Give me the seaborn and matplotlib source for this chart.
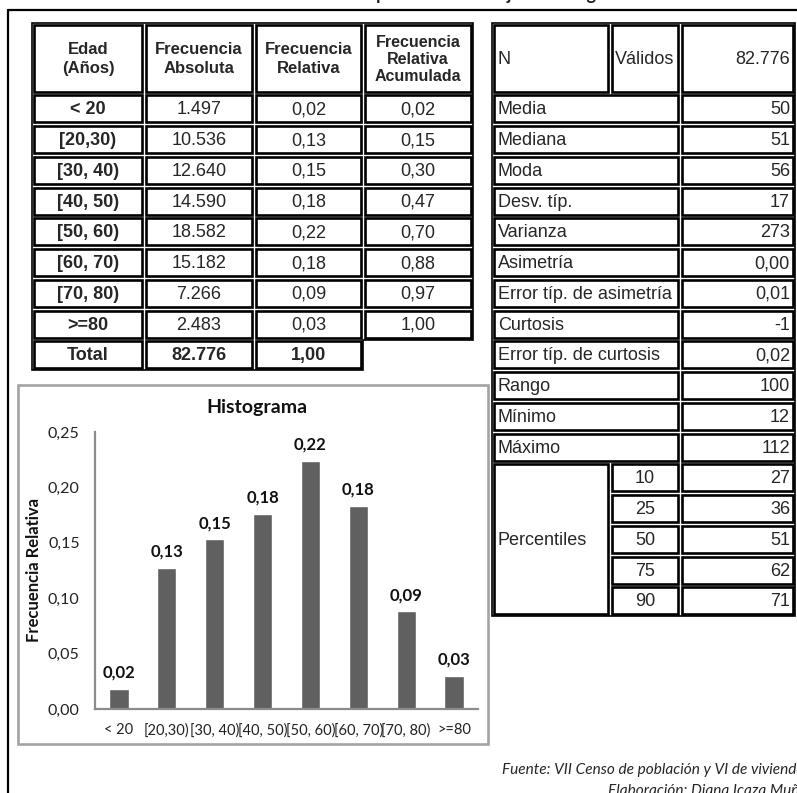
import matplotlib
matplotlib.use("Agg")
import matplotlib.pyplot as plt
import seaborn as sns
from matplotlib.patches import Rectangle, Polygon
from matplotlib.ticker import FuncFormatter

# Datos: edad del jefe de hogar
edades = ["< 20", "[20,30)", "[30, 40)", "[40, 50)", "[50, 60)", "[60, 70)", "[70, 80)", ">=80"]
frec_absoluta = [1497, 10536, 12640, 14590, 18582, 15182, 7266, 2483]
total_absoluta = 82776
frec_relativa = [0.02, 0.13, 0.15, 0.18, 0.22, 0.18, 0.09, 0.03]
total_relativa = 1.00
frec_acumulada = [0.02, 0.15, 0.30, 0.47, 0.70, 0.88, 0.97, 1.00]
alturas_barras = [0.018, 0.127, 0.153, 0.176, 0.224, 0.183, 0.088, 0.030]

encabezados = ["Edad\n(Años)", "Frecuencia\nAbsoluta", "Frecuencia\nRelativa", "Frecuencia\nRelativa\nAcumulada"]

n_validos = 82776
estad_nombres = ["Media", "Mediana", "Moda", "Desv. típ.", "Varianza", "Asimetría",
                 "Error típ. de asimetría", "Curtosis", "Error típ. de curtosis",
                 "Rango", "Mínimo", "Máximo"]
estad_valores = ["50", "51", "56", "17", "273", "0,00", "0,01", "-1", "0,02", "100", "12", "112"]
percentiles = ["10", "25", "50", "75", "90"]
percentil_valores = ["27", "36", "51", "62", "71"]

y_ticks = [0.00, 0.05, 0.10, 0.15, 0.20, 0.25]


def miles(n):
    return f"{n:,}".replace(",", ".")


def dec(v):
    return f"{v:.2f}".replace(".", ",")


sns.set_style("white")
plt.rcParams["font.family"] = ["Liberation Sans", "DejaVu Sans"]

fig = plt.figure(figsize=(7.97, 7.93), dpi=100)

# capa en pixeles para tablas y marcos
ov = fig.add_axes([0, 0, 1, 1])
ov.set_xlim(0, 797)
ov.set_ylim(793, 0)
ov.axis("off")


def celda(x0, y0, x1, y1, texto="", bold=False, ha="center", size=13, ls=1.0):
    ov.add_patch(Rectangle((x0 + 1.8, y0 + 1.8), x1 - x0 - 3.6, y1 - y0 - 3.6,
                           fill=False, ec="black", lw=1.9))
    if ha == "center":
        tx = (x0 + x1) / 2
    elif ha == "left":
        tx = x0 + 6
    else:
        tx = x1 - 5
    ov.text(tx, (y0 + y1) / 2 + 1, texto, ha=ha, va="center", fontsize=size,
            fontweight="bold" if bold else "normal", linespacing=ls)


# titulo cortado por el borde superior y marco exterior
ov.text(420, -0.3, "Estadísticos descriptivos: edad del jefe de hogar", ha="center",
        va="baseline", fontsize=13, fontweight="bold", family="Lato", color="#222222")
ov.plot([8, 797], [10, 10], color="black", lw=1.6)
ov.plot([8, 8], [10, 793], color="black", lw=1.6)

# tabla de frecuencias
cols = [32, 144, 254, 363, 473]
y_top, y_head, alto = 23, 93.5, 30.75
for j, enc in enumerate(encabezados):
    celda(cols[j], y_top, cols[j + 1], y_head, enc, bold=True,
          size=11.5 if j == 3 else 12, ls=1.15 if j == 3 else 1.3)
for i, edad in enumerate(edades):
    y0 = y_head + i * alto
    celda(cols[0], y0, cols[1], y0 + alto, edad, bold=True)
    celda(cols[1], y0, cols[2], y0 + alto, miles(frec_absoluta[i]))
    celda(cols[2], y0, cols[3], y0 + alto, dec(frec_relativa[i]))
    celda(cols[3], y0, cols[4], y0 + alto, dec(frec_acumulada[i]))
y0 = y_head + len(edades) * alto
celda(cols[0], y0, cols[1], y0 + alto, "Total", bold=True)
celda(cols[1], y0, cols[2], y0 + alto, miles(total_absoluta), bold=True)
celda(cols[2], y0, cols[3], y0 + alto, dec(total_relativa), bold=True)
y_fin = y0 + alto
ov.add_patch(Polygon([(cols[0], y_top), (cols[4], y_top), (cols[4], y0), (cols[3], y0),
                      (cols[3], y_fin), (cols[0], y_fin)],
                     closed=True, fill=False, ec="black", lw=1.2))

# tabla de estadisticos
rc = [492, 610, 680, 795]
celda(rc[0], y_top, rc[1], y_head, "N", ha="left")
celda(rc[1], y_top, rc[2], y_head, "Válidos")
celda(rc[2], y_top, rc[3], y_head, miles(n_validos), ha="right")
for i, (nom, val) in enumerate(zip(estad_nombres, estad_valores)):
    y0 = y_head + i * alto
    celda(rc[0], y0, rc[2], y0 + alto, nom, ha="left")
    celda(rc[2], y0, rc[3], y0 + alto, val, ha="right")
y_p = y_head + len(estad_nombres) * alto
celda(rc[0], y_p, rc[1], y_p + len(percentiles) * alto, "Percentiles", ha="left")
for i, (p, val) in enumerate(zip(percentiles, percentil_valores)):
    y0 = y_p + i * alto
    celda(rc[1], y0, rc[2], y0 + alto, p)
    celda(rc[2], y0, rc[3], y0 + alto, val, ha="right")
ov.add_patch(Rectangle((rc[0], y_top), rc[3] - rc[0], y_p + len(percentiles) * alto - y_top,
                       fill=False, ec="black", lw=1.2))

# recuadro del histograma
ov.add_patch(Rectangle((18, 385), 470, 359, facecolor="white", ec="#a3a3a3", lw=1.9))
ov.text(257, 407, "Histograma", ha="center", va="center", fontsize=14,
        fontweight="bold", family="Lato", color="#111111")

# fuente (cortada por el borde derecho e inferior, como en el original)
ov.text(502, 770, "Fuente: VII Censo de población y VI de vivienda 2010",
        ha="left", va="center", fontsize=11.1, style="italic", family="Lato")
ov.text(608, 791, "Elaboración: Diana Icaza Muñoz", ha="left", va="center",
        fontsize=11.1, style="italic", family="Lato")

# histograma
ax = fig.add_axes([95 / 797, (793 - 709) / 793, 383 / 797, 277 / 793])
ax.patch.set_alpha(0)
sns.barplot(x=edades, y=alturas_barras, color="#606060", width=0.4, saturation=1, ax=ax)
ax.set_xlim(-0.5, len(edades) - 0.5)
ax.set_ylim(0, 0.25)
ax.set_yticks(y_ticks)
ax.yaxis.set_major_formatter(FuncFormatter(lambda v, p: dec(v)))
ax.bar_label(ax.containers[0], labels=[dec(v) for v in frec_relativa], padding=6,
             fontsize=12, fontweight="bold", family="Lato", color="#111111")
for s in ["top", "right"]:
    ax.spines[s].set_visible(False)
for s in ["left", "bottom"]:
    ax.spines[s].set_color("#8c8c8c")
    ax.spines[s].set_linewidth(1.6)
ax.tick_params(axis="y", length=0, pad=11, labelsize=11.5, labelcolor="#222222")
ax.tick_params(axis="x", length=0, pad=10, labelsize=10.5, labelcolor="#222222")
for lab in ax.get_xticklabels() + ax.get_yticklabels():
    lab.set_family("Lato")
ax.set_xlabel("")
ax.set_ylabel("Frecuencia Relativa", fontsize=12, fontweight="bold", family="Lato",
              labelpad=4, color="#111111")

fig.savefig("out.png", dpi=100)
